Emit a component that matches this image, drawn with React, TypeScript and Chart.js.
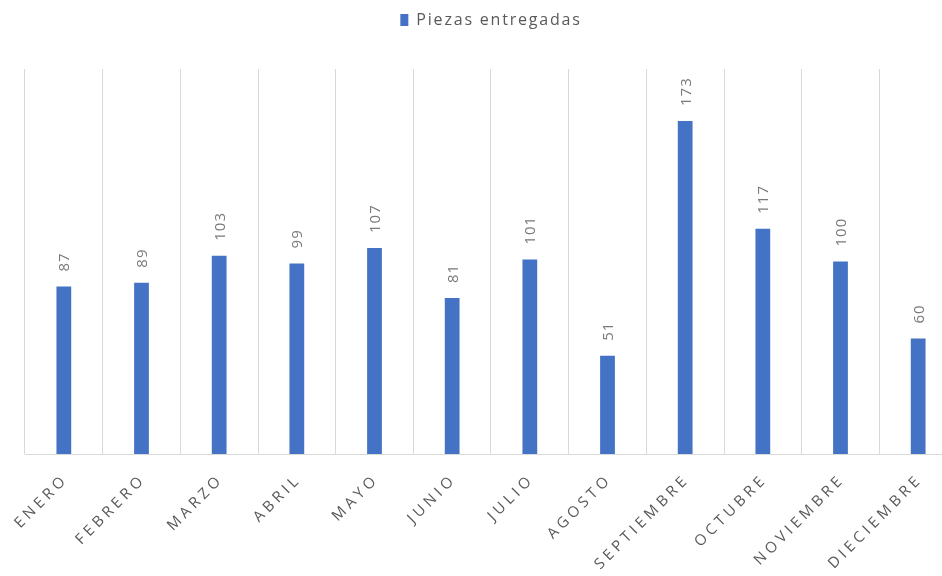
import React, { useEffect, useRef } from 'react';
import { Chart, registerables } from 'chart.js';

Chart.register(...registerables);

const MONTHS = ['ENERO', 'FEBRERO', 'MARZO', 'ABRIL', 'MAYO', 'JUNIO', 'JULIO', 'AGOSTO', 'SEPTIEMBRE', 'OCTUBRE', 'NOVIEMBRE', 'DIECIEMBRE'];
const PIEZAS = [87, 89, 103, 99, 107, 81, 101, 51, 173, 117, 100, 60];
const SERIES_LABEL = 'Piezas entregadas';
const Y_MIN = 0;
const Y_MAX = 200;

const CANVAS_W = 977;
const CANVAS_H = 576;

export default function App() {
  const ref = useRef<HTMLCanvasElement>(null);

  useEffect(() => {
    const canvas = ref.current;
    if (!canvas) return;

    const spacingPlugin = {
      id: 'legendSpacing',
      beforeUpdate(chart: any) {
        chart.ctx.letterSpacing = '1.8px';
      },
      beforeDraw(chart: any) {
        chart.ctx.letterSpacing = '1.8px';
      },
    };

    const labelsPlugin = {
      id: 'customLabels',
      afterDraw(chart: any) {
        const ctx = chart.ctx as CanvasRenderingContext2D;
        const xScale = chart.scales.x;
        const bottom = chart.chartArea.bottom;
        ctx.save();
        // category labels, rotated 45deg
        ctx.font = '15px "Open Sans"';
        (ctx as any).letterSpacing = '4px';
        ctx.fillStyle = '#595959';
        ctx.textAlign = 'right';
        ctx.textBaseline = 'middle';
        MONTHS.forEach((m, i) => {
          const px = xScale.getPixelForValue(i);
          ctx.save();
          ctx.translate(px + 2, bottom + 23);
          ctx.rotate(-Math.PI / 4);
          ctx.fillText(m, 0, 0);
          ctx.restore();
        });
        // value labels, rotated 90deg
        ctx.font = '15px "Open Sans"';
        (ctx as any).letterSpacing = '1px';
        ctx.fillStyle = '#7a7a7a';
        ctx.textAlign = 'left';
        ctx.textBaseline = 'alphabetic';
        const meta = chart.getDatasetMeta(0);
        meta.data.forEach((bar: any, i: number) => {
          ctx.save();
          ctx.translate(bar.x, bar.y - 15);
          ctx.rotate(-Math.PI / 2);
          ctx.fillText(String(PIEZAS[i]), 0, 5.5);
          ctx.restore();
        });
        ctx.restore();
      },
    };

    const chart = new Chart(canvas, {
      type: 'bar',
      data: {
        labels: MONTHS,
        datasets: [
          {
            label: SERIES_LABEL,
            data: PIEZAS,
            backgroundColor: '#4472C4',
            borderWidth: 0,
            categoryPercentage: 1,
            barPercentage: 0.19,
          },
        ],
      },
      options: {
        responsive: false,
        animation: false,
        devicePixelRatio: 1,
        layout: { padding: { top: 2, left: 25, right: 20, bottom: 122 } },
        plugins: {
          legend: {
            position: 'top',
            labels: {
              boxWidth: 8,
              boxHeight: 12,
              color: '#595959',
              font: { family: 'Open Sans', size: 16 },
              padding: 10,
            },
          },
          title: {
            display: true,
            text: '',
            weight: 500,
            padding: { top: 0, bottom: 21 },
            font: { size: 10, lineHeight: 1 },
          } as any,
          tooltip: { enabled: false },
        },
        scales: {
          x: {
            grid: { display: true, color: '#d9d9d9', drawTicks: false, offset: true, lineWidth: 1 },
            border: { display: true, color: '#d9d9d9' },
            ticks: { display: false },
          },
          y: { display: false, min: Y_MIN, max: Y_MAX },
        },
      },
      plugins: [spacingPlugin, labelsPlugin],
    } as any);

    return () => chart.destroy();
  }, []);

  return (
    <div style={{ position: 'absolute', left: 0, top: 0, width: 942, height: 576, overflow: 'hidden', background: '#fff' }}>
      <canvas ref={ref} width={CANVAS_W} height={CANVAS_H} style={{ display: 'block', width: CANVAS_W, height: CANVAS_H }} />
    </div>
  );
}
